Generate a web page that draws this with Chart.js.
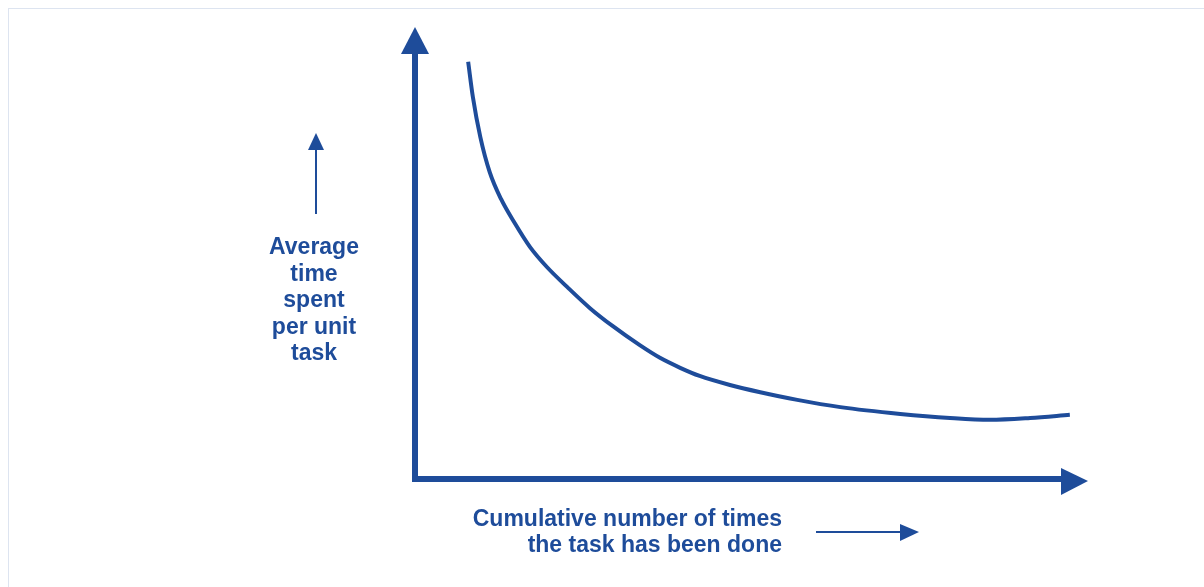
<!DOCTYPE html>
<html>
<head>
<meta charset="utf-8">
<script src="https://cdn.jsdelivr.net/npm/chart.js@4"></script>
<style>
  html, body { margin: 0; padding: 0; background: #fff; }
  #wrap { position: relative; width: 1204px; height: 587px; }
  #frame { position: absolute; left: 8px; top: 8px; right: 0; bottom: 0;
           border-top: 1px solid #dde4f0; border-left: 1px solid #dde4f0; }
</style>
</head>
<body>
<div id="wrap">
  <div id="frame"></div>
  <canvas id="curve" width="1204" height="587"></canvas>
</div>
<script>
// (arbitrary units, 0-100 on both axes)
const xValues = [7.9, 8.6, 9.7, 11.1, 12.8, 14.7, 17.1, 19.6, 22.6, 26.0, 29.4, 33.4,
                 36.4, 39.4, 42.3, 46.8, 51.3, 56.8, 63.2, 72.1, 79.5, 85.4, 91.4, 97.3];
const yValues = [92.3, 84.5, 75.7, 67.9, 61.9, 56.9, 51.3, 46.9, 42.5, 37.8, 33.8, 29.6,
                 26.8, 24.6, 22.8, 20.8, 19.2, 17.5, 15.9, 14.4, 13.5, 13.1, 13.5, 14.2];
const yLabelLines = ["Average", "time", "spent", "per unit", "task"];
const xLabelLines = ["Cumulative number of times", "the task has been done"];

const blue = "#1e4c9a";

const points = xValues.map((x, i) => ({ x, y: yValues[i] }));

// axes with arrow heads, plus the hand-lettered labels
const diagramPlugin = {
    id: "diagram",
    afterDatasetsDraw(chart) {
        const ctx = chart.ctx;
        const xs = chart.scales.x, ys = chart.scales.y;
        const x0 = xs.getPixelForValue(0), x1 = xs.getPixelForValue(100);
        const y0 = ys.getPixelForValue(0), y1 = ys.getPixelForValue(100);

        ctx.save();
        ctx.strokeStyle = blue;
        ctx.fillStyle = blue;
        ctx.lineCap = "square";
        ctx.lineWidth = 6;
        ctx.beginPath();
        ctx.moveTo(x0, y1 + 20);
        ctx.lineTo(x0, y0);
        ctx.lineTo(x1 - 20, y0);
        ctx.stroke();

        // arrow heads
        ctx.beginPath();
        ctx.moveTo(x0, y1);
        ctx.lineTo(x0 - 14, y1 + 27);
        ctx.lineTo(x0 + 14, y1 + 27);
        ctx.closePath();
        ctx.fill();
        ctx.beginPath();
        ctx.moveTo(x1, y0 + 2);
        ctx.lineTo(x1 - 27, y0 - 11);
        ctx.lineTo(x1 - 27, y0 + 16);
        ctx.closePath();
        ctx.fill();

        // small up arrow next to the y label
        ctx.lineWidth = 2;
        ctx.beginPath();
        ctx.moveTo(316, 213);
        ctx.lineTo(316, 145);
        ctx.stroke();
        ctx.beginPath();
        ctx.moveTo(316, 133);
        ctx.lineTo(308, 150);
        ctx.lineTo(324, 150);
        ctx.closePath();
        ctx.fill();

        // small right arrow next to the x label
        ctx.beginPath();
        ctx.moveTo(817, 532);
        ctx.lineTo(905, 532);
        ctx.stroke();
        ctx.beginPath();
        ctx.moveTo(919, 532);
        ctx.lineTo(900, 524);
        ctx.lineTo(900, 541);
        ctx.closePath();
        ctx.fill();

        ctx.font = "bold 23px 'Liberation Sans', Arial, sans-serif";
        ctx.textBaseline = "middle";
        ctx.textAlign = "center";
        yLabelLines.forEach((line, i) => ctx.fillText(line, 314, 248 + i * 26.5));

        ctx.textAlign = "right";
        xLabelLines.forEach((line, i) => ctx.fillText(line, 782, 520 + i * 26));
        ctx.restore();
    }
};

new Chart(document.getElementById("curve"), {
    type: "scatter",
    data: {
        datasets: [{
            data: points,
            showLine: true,
            borderColor: blue,
            borderWidth: 4,
            pointRadius: 0,
            cubicInterpolationMode: "monotone",
            clip: false
        }]
    },
    options: {
        responsive: false,
        animation: false,
        events: [],
        layout: { padding: { left: 415, top: 27, right: 116, bottom: 108 } },
        plugins: { legend: { display: false }, tooltip: { enabled: false } },
        scales: {
            x: { type: "linear", min: 0, max: 100, display: false },
            y: { type: "linear", min: 0, max: 100, display: false }
        }
    },
    plugins: [diagramPlugin]
});
</script>
</body>
</html>
